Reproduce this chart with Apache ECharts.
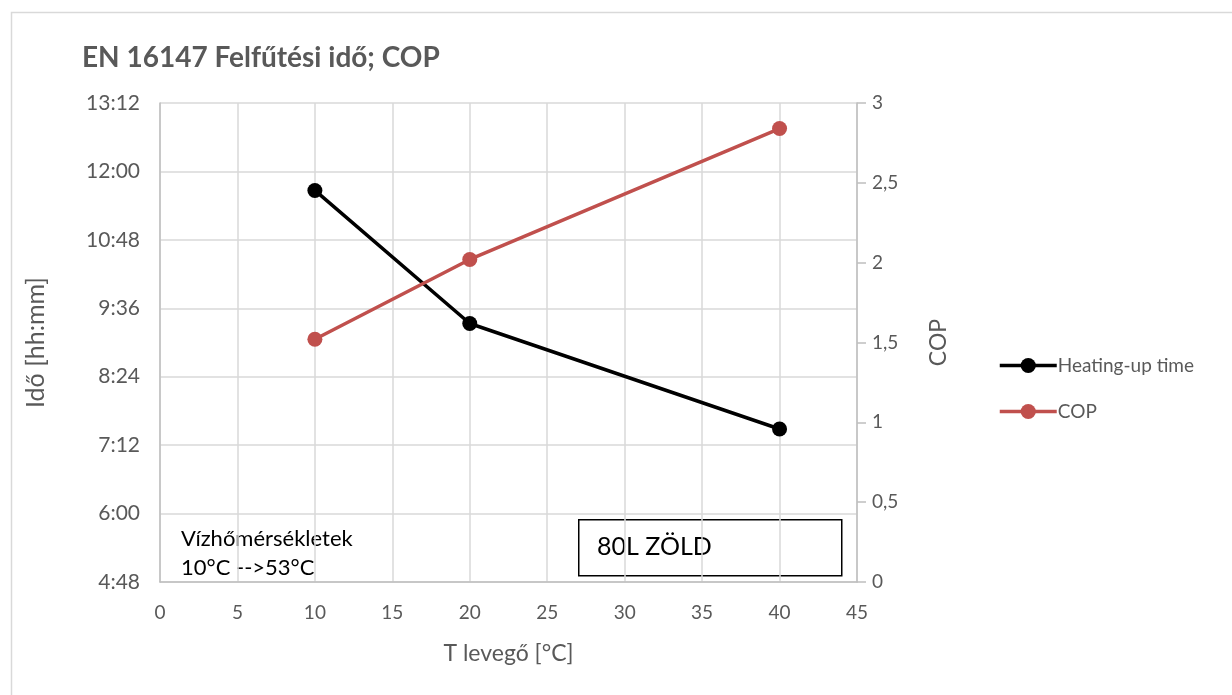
<!DOCTYPE html>
<html>
<head>
<meta charset="utf-8">
<script src="https://cdn.jsdelivr.net/npm/echarts@6/dist/echarts.min.js"></script>
<style>
html,body{margin:0;padding:0;background:#fff;}
#chart{width:1232px;height:695px;}
</style>
</head>
<body>
<div id="chart"></div>
<script>
// Data
var airTemps = [10, 20, 40];
var heatingTimeMin = [700, 560, 449]; // minutes (11:40, 9:20, 7:29)
var copValues = [1.52, 2.02, 2.84];
var seriesNames = ['Heating-up time', 'COP'];
var titleText = 'EN 16147 Felfűtési idő; COP';
var xAxisName = 'T levegő [°C]';
var yLeftName = 'Idő [hh:mm]';
var yRightName = 'COP';
var noteLines = ['Vízhőmérsékletek', '10°C -->53°C'];
var boxText = '80L ZÖLD';

var FONT = 'Lato, "Open Sans", sans-serif';
var GREY = '#595959';

function fmtTime(v) {
  var h = Math.floor(v / 60), m = Math.round(v - h * 60);
  return h + ':' + (m < 10 ? '0' : '') + m;
}
function fmtComma(v) { return String(v).replace('.', ','); }

var chart = echarts.init(document.getElementById('chart'));
chart.setOption({
  backgroundColor: '#fff',
  animation: false,
  textStyle: { fontFamily: FONT },
  title: {
    text: titleText, left: 77, top: 39,
    textStyle: { fontFamily: FONT, fontSize: 28, fontWeight: 'bold', color: GREY }
  },
  grid: { left: 160, right: 375, top: 103, bottom: 113, containLabel: false },
  legend: {
    orient: 'vertical', left: 993, top: 351,
    itemWidth: 57, itemHeight: 19, itemGap: 27,
    lineStyle: { width: 3.5 },
    textStyle: { fontFamily: FONT, fontSize: 19, color: GREY, padding: [0,0,0,-4] },
    data: seriesNames
  },
  xAxis: {
    type: 'value', min: 0, max: 45, interval: 5,
    name: xAxisName, nameLocation: 'middle', nameGap: 60,
    nameTextStyle: { fontFamily: FONT, fontSize: 23, color: GREY },
    axisLine: { show: true, lineStyle: { color: '#BFBFBF', width: 1.5 } },
    axisTick: { show: false },
    axisLabel: { fontFamily: FONT, fontSize: 19, color: GREY, margin: 21 },
    splitLine: { show: true, lineStyle: { color: '#D9D9D9', width: 1.5 } }
  },
  yAxis: [
    {
      type: 'value', min: 288, max: 792, interval: 72, position: 'left',
      name: yLeftName, nameLocation: 'middle', nameGap: 112, nameRotate: 90,
      nameTextStyle: { fontFamily: FONT, fontSize: 25, color: GREY },
      axisLine: { show: true, lineStyle: { color: '#BFBFBF', width: 1.5 } },
      axisTick: { show: false },
      axisLabel: { fontFamily: FONT, fontSize: 21, color: GREY, margin: 20, formatter: fmtTime },
      splitLine: { show: true, lineStyle: { color: '#D9D9D9', width: 1.5 } }
    },
    {
      type: 'value', min: 0, max: 3, interval: 0.5, position: 'right',
      name: yRightName, nameLocation: 'middle', nameGap: 70, nameRotate: 90,
      nameTextStyle: { fontFamily: FONT, fontSize: 23, color: GREY },
      axisLine: { show: true, lineStyle: { color: '#BFBFBF', width: 1.5 } },
      axisTick: { show: true, length: 9, inside: false, lineStyle: { color: '#BFBFBF', width: 1.5 } },
      axisLabel: { fontFamily: FONT, fontSize: 19, color: GREY, margin: 15, formatter: fmtComma },
      splitLine: { show: false }
    }
  ],
  series: [
    {
      name: seriesNames[0], type: 'line', yAxisIndex: 0,
      data: airTemps.map(function (t, i) { return [t, heatingTimeMin[i]]; }),
      symbol: 'circle', symbolSize: 15,
      lineStyle: { color: '#000', width: 3.5 },
      itemStyle: { color: '#000' }
    },
    {
      name: seriesNames[1], type: 'line', yAxisIndex: 1,
      data: airTemps.map(function (t, i) { return [t, copValues[i]]; }),
      symbol: 'circle', symbolSize: 15,
      lineStyle: { color: '#C0504D', width: 3.5 },
      itemStyle: { color: '#C0504D' }
    }
  ],
  graphic: [
    { type: 'rect', left: 9, top: 10, shape: { width: 1240, height: 700 },
      style: { fill: 'none', stroke: '#D9D9D9', lineWidth: 1.5 }, silent: true, z: -1 },
    { type: 'text', left: 181, top: 524,
      style: { text: noteLines.join('\n'), fill: '#000', fontFamily: FONT, fontSize: 22, lineHeight: 29 } },
    { type: 'rect', left: 578, top: 519, shape: { width: 263, height: 56 },
      style: { fill: '#fff', stroke: '#000', lineWidth: 1.5 } },
    { type: 'text', left: 597, top: 534,
      style: { text: boxText, fill: '#000', fontFamily: FONT, fontSize: 25 } }
  ]
});
</script>
</body>
</html>
